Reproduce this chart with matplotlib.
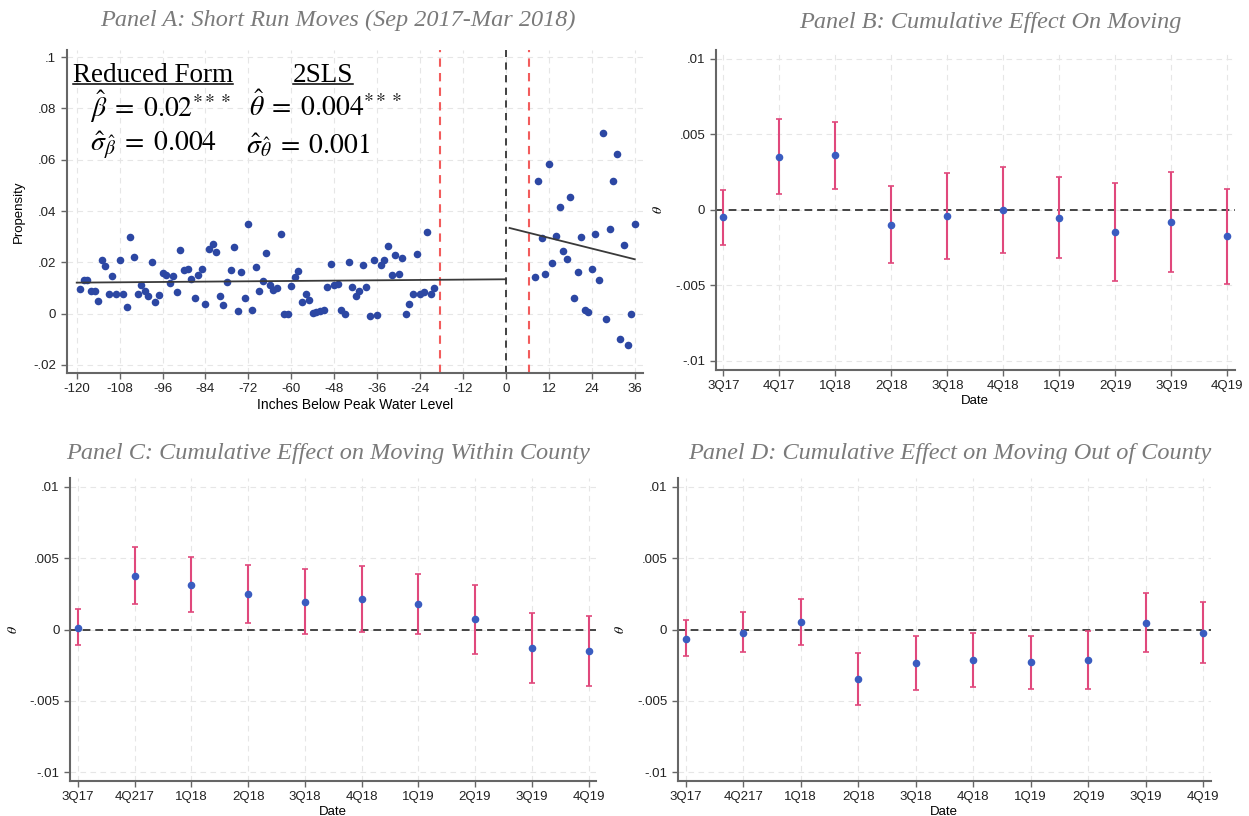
import numpy as np
import matplotlib.pyplot as plt
from matplotlib.lines import Line2D

plt.rcParams['font.family'] = ['Liberation Sans', 'DejaVu Sans']
plt.rcParams['mathtext.fontset'] = 'stix'
plt.rcParams['axes.unicode_minus'] = False

# Panel A: move propensity binned by inches below peak water level
inches_left = list(range(-119, -19))
prop_left = [0.0096, 0.0130, 0.0130, 0.0090, 0.0090, 0.0048, 0.0209, 0.0186, 0.0078, 0.0148,
             0.0077, 0.0209, 0.0077, 0.0026, 0.0300, 0.0222, 0.0078, 0.0111, 0.0087, 0.0068,
             0.0200, 0.0047, 0.0072, 0.0159, 0.0150, 0.0121, 0.0148, 0.0085, 0.0248, 0.0170,
             0.0175, 0.0134, 0.0060, 0.0152, 0.0173, 0.0037, 0.0253, 0.0273, 0.0242, 0.0069,
             0.0034, 0.0124, 0.0170, 0.0261, 0.0012, 0.0161, 0.0061, 0.0348, 0.0016, 0.0183,
             0.0088, 0.0126, 0.0237, 0.0111, 0.0092, 0.0099, 0.0310, -0.0002, -0.0003, 0.0108,
             0.0142, 0.0166, 0.0046, 0.0077, 0.0055, 0.0001, 0.0008, 0.0012, 0.0015, 0.0104,
             0.0193, 0.0113, 0.0116, 0.0013, 0.0000, 0.0200, 0.0102, 0.0068, 0.0088, 0.0189,
             0.0102, -0.0009, 0.0208, -0.0005, 0.0190, 0.0208, 0.0263, 0.0150, 0.0229, 0.0154,
             0.0216, 0.0000, 0.0037, 0.0076, 0.0233, 0.0078, 0.0086, 0.0317, 0.0077, 0.0101]
inches_right = list(range(8, 37))
prop_right = [0.0143, 0.0517, 0.0295, 0.0156, 0.0584, 0.0199, 0.0304, 0.0417, 0.0246, 0.0213,
              0.0455, 0.0061, 0.0163, 0.0298, 0.0014, 0.0008, 0.0173, 0.0310, 0.0130, 0.0703,
              -0.0022, 0.0330, 0.0516, 0.0624, -0.0100, 0.0268, -0.0121, -0.0002, 0.0351]
fit_left_x = [-120, 0]
fit_left_y = [0.0121, 0.0134]
fit_right_x = [1, 36]
fit_right_y = [0.0334, 0.0212]
bandwidth_x = [-18.5, 6.5]
cutoff_x = 0

a_xticks = list(range(-120, 37, 12))
a_yticks = [-0.02, 0, 0.02, 0.04, 0.06, 0.08, 0.1]
a_ylabels = ['-.02', '0', '.02', '.04', '.06', '.08', '.1']

# Panels B-D: cumulative 2SLS effects by quarter
quarters_b = ['3Q17', '4Q17', '1Q18', '2Q18', '3Q18', '4Q18', '1Q19', '2Q19', '3Q19', '4Q19']
quarters_cd = ['3Q17', '4Q217', '1Q18', '2Q18', '3Q18', '4Q18', '1Q19', '2Q19', '3Q19', '4Q19']

move_est = [-0.00048, 0.00354, 0.00362, -0.00098, -0.00039, 0.0, -0.0005, -0.00144, -0.00081, -0.00172]
move_hi = [0.00135, 0.0060, 0.00585, 0.00159, 0.00247, 0.00286, 0.00218, 0.00181, 0.00249, 0.00142]
move_lo = [-0.0023, 0.00109, 0.00142, -0.00352, -0.00323, -0.00286, -0.00317, -0.00472, -0.00413, -0.00489]

within_est = [0.00014, 0.00375, 0.00312, 0.00251, 0.00195, 0.00213, 0.00178, 0.0007, -0.00129, -0.0015]
within_hi = [0.0014, 0.00574, 0.00504, 0.00453, 0.00424, 0.00443, 0.00389, 0.00312, 0.00117, 0.00094]
within_lo = [-0.0011, 0.00178, 0.00122, 0.00049, -0.0003, -0.00016, -0.0003, -0.00171, -0.00373, -0.00392]

out_est = [-0.00063, -0.00021, 0.00051, -0.00346, -0.00236, -0.00215, -0.00229, -0.00215, 0.00047, -0.00021]
out_hi = [0.00065, 0.00119, 0.00213, -0.00166, -0.00044, -0.00026, -0.00042, -0.00007, 0.00257, 0.00189]
out_lo = [-0.00187, -0.00159, -0.0011, -0.00529, -0.00421, -0.00402, -0.00414, -0.00419, -0.00159, -0.00236]

theta_ticks = [-0.01, -0.005, 0, 0.005, 0.01]
theta_labels = ['-.01', '-.005', '0', '.005', '.01']

DOT = '#2c47a3'
DOT_SMALL = '#3a5cc0'
CI = '#e0487c'
AXIS = '#666666'
TITLE = '#7a7a7a'


def style_axes(ax):
    for side in ['top', 'right']:
        ax.spines[side].set_visible(False)
    for side in ['left', 'bottom']:
        ax.spines[side].set_color(AXIS)
        ax.spines[side].set_linewidth(1.5)
    ax.tick_params(colors=AXIS, labelcolor='#222222', labelsize=9.5, length=4, width=1)
    ax.grid(True, color='#e6e6e6', linestyle=(0, (5, 4)), linewidth=0.8)
    ax.set_axisbelow(True)


def coef_panel(ax, labels, est, lo, hi):
    style_axes(ax)
    x = np.arange(len(labels))
    est = np.array(est)
    yerr = [est - np.array(lo), np.array(hi) - est]
    ax.axhline(0, color='#444444', linestyle=(0, (4, 2.5)), linewidth=1.4, zorder=2)
    ax.errorbar(x, est, yerr=yerr, fmt='none', ecolor=CI, elinewidth=1.5,
                capsize=2, capthick=1.2, zorder=3)
    ax.scatter(x, est, s=20, color=DOT_SMALL, zorder=4)
    ax.set_xticks(x)
    ax.set_xticklabels(labels)
    ax.set_yticks(theta_ticks)
    ax.set_yticklabels(theta_labels)
    ax.set_xlim(-0.14, 9.13)
    ax.set_ylim(-0.0106, 0.0106)
    ax.set_ylabel(r'$\theta$', fontsize=10, labelpad=7)
    ax.set_xlabel('Date', fontsize=9.5, labelpad=2)


fig = plt.figure(figsize=(12.49, 8.16), dpi=100)

# Panel A
axA = fig.add_axes([0.0534, 0.5433, 0.4614, 0.3955])
style_axes(axA)
axA.axvline(cutoff_x, color='#333333', linestyle=(0, (4, 3)), linewidth=1.3, zorder=2)
for bx in bandwidth_x:
    axA.axvline(bx, color='#f25c5c', linestyle=(0, (4, 3)), linewidth=1.5, zorder=2)
axA.scatter(inches_left, prop_left, s=30, color=DOT, zorder=3, linewidths=0)
axA.scatter(inches_right, prop_right, s=30, color=DOT, zorder=3, linewidths=0)
axA.plot(fit_left_x, fit_left_y, color='#3a3a3a', linewidth=1.3, zorder=4)
axA.plot(fit_right_x, fit_right_y, color='#3a3a3a', linewidth=1.3, zorder=4)
axA.set_xticks(a_xticks)
axA.set_yticks(a_yticks)
axA.set_yticklabels(a_ylabels)
axA.set_xlim(-122.8, 38.3)
axA.set_ylim(-0.023, 0.1028)
axA.set_ylabel('Propensity', fontsize=9.5, labelpad=6)
axA.set_xlabel('Inches Below Peak Water Level', fontsize=10, labelpad=2)

# regression summary text
t_rf = axA.text(0.011, 0.922, 'Reduced Form', transform=axA.transAxes, fontsize=19.5,
                family='Liberation Serif', va='center', zorder=5)
t_2s = axA.text(0.392, 0.922, '2SLS', transform=axA.transAxes, fontsize=19.5,
                family='Liberation Serif', va='center', zorder=5)
axA.text(0.040, 0.825, r'$\hat{\beta}\;=\;0.02^{***}$', transform=axA.transAxes,
         fontsize=20, va='center', zorder=5)
axA.text(0.316, 0.825, r'$\hat{\theta}\;=\;0.004^{***}$', transform=axA.transAxes,
         fontsize=20, va='center', zorder=5)
axA.text(0.040, 0.705, r'$\hat{\sigma}_{\hat{\beta}}\;=\;0.004$', transform=axA.transAxes,
         fontsize=20, va='center', zorder=5)
axA.text(0.311, 0.705, r'$\hat{\sigma}_{\hat{\theta}}\;=\;0.001$', transform=axA.transAxes,
         fontsize=20, va='center', zorder=5)

# Panels B, C, D
axB = fig.add_axes([0.5729, 0.5466, 0.4155, 0.3922])
coef_panel(axB, quarters_b, move_est, move_lo, move_hi)
axC = fig.add_axes([0.0560, 0.0429, 0.4211, 0.3713])
coef_panel(axC, quarters_cd, within_est, within_lo, within_hi)
axD = fig.add_axes([0.5426, 0.0429, 0.4267, 0.3713])
coef_panel(axD, quarters_cd, out_est, out_lo, out_hi)

title_kw = dict(family='Liberation Serif', style='italic', fontsize=17.5, color=TITLE,
                ha='center', va='center')
fig.text(0.2706, 0.975, 'Panel A: Short Run Moves (Sep 2017-Mar 2018)', **title_kw)
fig.text(0.7926, 0.973, 'Panel B: Cumulative Effect On Moving', **title_kw)
fig.text(0.2626, 0.444, 'Panel C: Cumulative Effect on Moving Within County', **title_kw)
fig.text(0.7606, 0.444, 'Panel D: Cumulative Effect on Moving Out of County', **title_kw)

# underline the two column headers
fig.canvas.draw()
inv = fig.transFigure.inverted()
for t in [t_rf, t_2s]:
    bb = t.get_window_extent()
    (x0, y0), (x1, y1) = inv.transform([(bb.x0, bb.y0), (bb.x1, bb.y1)])
    fig.add_artist(Line2D([x0, x1], [y0 + 0.004, y0 + 0.004], transform=fig.transFigure,
                          color='black', linewidth=1.1))

fig.savefig('out.png', dpi=100)
